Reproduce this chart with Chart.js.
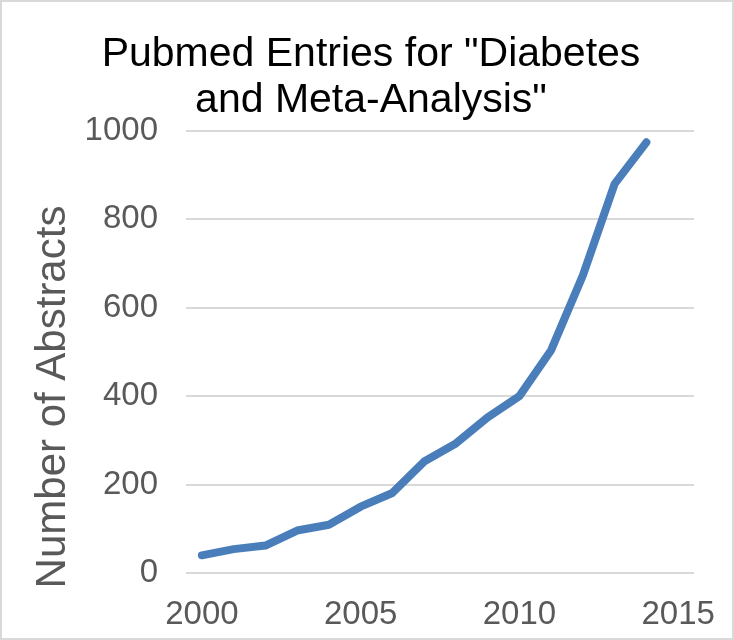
<!DOCTYPE html>
<html>
<head>
    <meta charset="utf-8">
    <title>Pubmed Entries</title>
    <style>
        body { margin: 0; background: #fff; }
    </style>
</head>
<body>
    <canvas id="grafico" width="734" height="640"></canvas>

    <script src="https://cdn.jsdelivr.net/npm/chart.js@4.4.0/dist/chart.umd.min.js"></script>
    <script>
        // dados
        var anos = [2000, 2001, 2002, 2003, 2004, 2005, 2006, 2007, 2008, 2009, 2010, 2011, 2012, 2013, 2014];
        var resumos = [40, 54, 62, 96, 109, 150, 181, 252, 293, 352, 400, 504, 673, 880, 974];
        var ticksX = [2000, 2005, 2010, 2015];

        var fonte = 'Liberation Sans, Arial, sans-serif';
        var cinza = '#595959';

        var pontos = [];
        for (var i = 0; i < anos.length; i++) {
            pontos.push({x: anos[i], y: resumos[i]});
        }

        // fundo branco + moldura cinza
        var moldura = {
            id: 'moldura',
            beforeDraw: function(chart) {
                var ctx = chart.ctx;
                ctx.save();
                ctx.fillStyle = '#fff';
                ctx.fillRect(0, 0, chart.width, chart.height);
                ctx.strokeStyle = '#d9d9d9';
                ctx.lineWidth = 2;
                ctx.strokeRect(1, 1, chart.width - 2, chart.height - 2);
                ctx.restore();
            }
        };

        // titulo do eixo y (centrado um pouco abaixo como no original)
        var tituloY = {
            id: 'tituloY',
            afterDraw: function(chart) {
                var ctx = chart.ctx;
                ctx.save();
                ctx.translate(65, 397);
                ctx.rotate(-Math.PI / 2);
                ctx.font = '42px ' + fonte;
                ctx.fillStyle = cinza;
                ctx.textAlign = 'center';
                ctx.textBaseline = 'alphabetic';
                ctx.fillText('Number of Abstracts', 0, 0);
                ctx.restore();
            }
        };

        var ctx = document.getElementById('grafico');

        var chartGraph = new Chart(ctx, {
            type: 'line',
            data: {
                datasets: [{
                    label: 'Abstracts',
                    data: pontos,
                    borderColor: '#4a7ebb',
                    borderWidth: 8,
                    borderCapStyle: 'round',
                    borderJoinStyle: 'round',
                    pointRadius: 0,
                    tension: 0,
                    fill: false
                }]
            },
            options: {
                responsive: false,
                animation: false,
                layout: {
                    padding: {left: 8, right: 0, top: 0, bottom: 0}
                },
                plugins: {
                    legend: {display: false},
                    tooltip: {enabled: false},
                    title: {
                        display: true,
                        text: ['Pubmed Entries for "Diabetes', 'and Meta-Analysis"'],
                        color: '#000',
                        font: {family: fonte, size: 41, weight: 'normal', lineHeight: 1.12},
                        padding: {top: 32, bottom: 7}
                    }
                },
                scales: {
                    x: {
                        type: 'linear',
                        min: 1999.5,
                        max: 2015.5,
                        afterBuildTicks: function(scale) {
                            scale.ticks = ticksX.map(function(v) { return {value: v}; });
                        },
                        afterFit: function(scale) { scale.height = 67; },
                        grid: {display: false},
                        border: {display: false},
                        ticks: {
                            color: cinza,
                            font: {family: fonte, size: 33},
                            padding: 14,
                            maxRotation: 0,
                            callback: function(v) { return String(v); }
                        }
                    },
                    y: {
                        min: 0,
                        max: 1000,
                        afterFit: function(scale) { scale.width = 178; },
                        grid: {color: '#d9d9d9', lineWidth: 2, drawTicks: false},
                        border: {display: false},
                        ticks: {
                            stepSize: 200,
                            color: cinza,
                            font: {family: fonte, size: 33},
                            padding: 28,
                            callback: function(v) { return String(v); }
                        }
                    },
                    // eixo vazio a direita so para reservar espaco
                    yDir: {
                        position: 'right',
                        min: 0,
                        max: 1,
                        afterFit: function(scale) { scale.width = 40; },
                        grid: {display: false},
                        border: {display: false},
                        ticks: {display: false}
                    }
                }
            },
            plugins: [moldura, tituloY]
        });
    </script>
</body>
</html>
